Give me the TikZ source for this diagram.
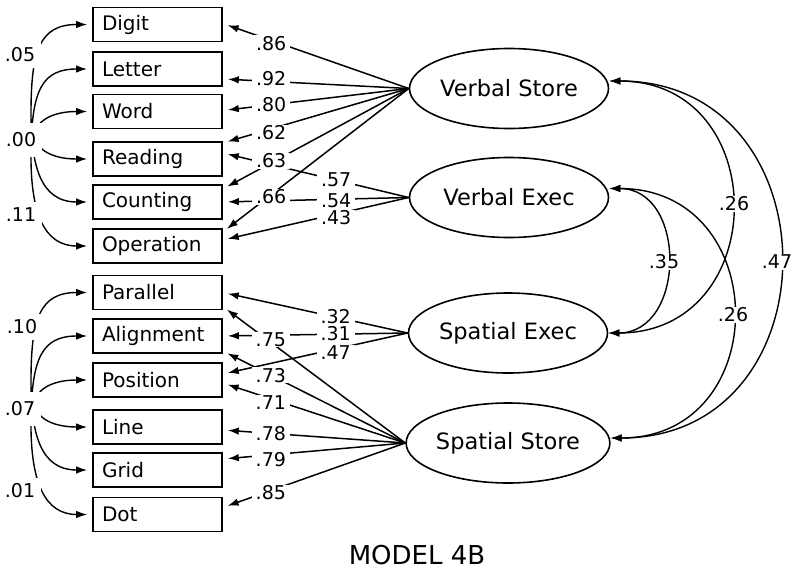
\documentclass[tikz,border=0pt]{standalone}
\usepackage{fontspec}
\setmainfont{DejaVu Sans}
\usetikzlibrary{arrows.meta,calc,shapes.geometric}
\begin{document}
\begin{tikzpicture}[x=1pt,y=-1pt,
  box/.style={draw,line width=1.7pt,minimum height=34pt,text width=111pt,inner xsep=9pt,inner ysep=0pt,align=left,font=\fontsize{20}{24}\selectfont},
  latent/.style={draw,ellipse,line width=1.6pt,minimum width=199pt,minimum height=80pt,inner sep=0pt,font=\fontsize{22.5}{26}\selectfont},
  lbl/.style={fill=white,inner xsep=4pt,inner ysep=0.8pt,font=\fontsize{19}{21}\selectfont},
  clbl/.style={fill=white,inner xsep=6pt,inner ysep=6pt,font=\fontsize{19}{21}\selectfont},
  tip/.tip={Latex[length=11pt,width=7.5pt]},
  load/.style={line width=1.5pt,-tip,shorten >=5pt},
  cov/.style={line width=1.4pt,tip-tip},
  lcov/.style={cov,shorten >=5pt,shorten <=5pt}]
\useasboundingbox (0,0) rectangle (800,573);

% observed boxes
\node[box] (Digit) at (157.5,24.5) {Digit};
\node[box] (Letter) at (157.5,69) {Letter};
\node[box] (Word) at (157.5,111.5) {Word};
\node[box] (Reading) at (157.5,159) {Reading};
\node[box] (Counting) at (157.5,202) {Counting};
\node[box] (Operation) at (157.5,246) {Operation};
\node[box] (Parallel) at (157.5,292.5) {Parallel};
\node[box] (Alignment) at (157.5,336) {Alignment};
\node[box] (Position) at (157.5,380) {Position};
\node[box] (Line) at (157.5,427) {Line};
\node[box] (Grid) at (157.5,470) {Grid};
\node[box] (Dot) at (157.5,514.5) {Dot};

% latent variables
\node[latent] (VS) at (509,88.5) {Verbal Store};
\node[latent] (VE) at (509,197.5) {Verbal Exec};
\node[latent] (SE) at (508,333) {Spatial Exec};
\node[latent] (SS) at (508,443) {Spatial Store};

% end points on boxes
\coordinate (eDig) at ([yshift=1pt]Digit.east);
\coordinate (eLet) at ([yshift=-10pt]Letter.east);
\coordinate (eWor) at ([yshift=1pt]Word.east);
\coordinate (eReaA) at ([yshift=16pt]Reading.east);
\coordinate (eReaB) at ([yshift=6pt]Reading.east);
\coordinate (eCouA) at ([yshift=13pt]Counting.east);
\coordinate (eCouB) at (Counting.east);
\coordinate (eOpeA) at ([yshift=14pt]Operation.east);
\coordinate (eOpeB) at ([yshift=6pt]Operation.east);
\coordinate (eParA) at (Parallel.east);
\coordinate (eParB) at ([yshift=-14pt]Parallel.east);
\coordinate (eAliA) at (Alignment.east);
\coordinate (eAliB) at ([yshift=-15pt]Alignment.east);
\coordinate (ePosA) at ([yshift=6pt]Position.east);
\coordinate (ePosB) at ([yshift=-3pt]Position.east);
\coordinate (eLin) at ([yshift=-3pt]Line.east);
\coordinate (eGri) at ([yshift=11pt]Grid.east);
\coordinate (eDot) at ([yshift=7pt]Dot.east);

% loadings
\draw[load] (VS.west) -- (eDig);
\draw[load] (VS.west) -- (eLet);
\draw[load] (VS.west) -- (eWor);
\draw[load] (VS.west) -- (eReaA);
\draw[load] (VS.west) -- (eCouA);
\draw[load] (VS.west) -- (eOpeA);
\draw[load] (VE.west) -- (eReaB);
\draw[load] (VE.west) -- (eCouB);
\draw[load] (VE.west) -- (eOpeB);
\draw[load] (SE.west) -- (eParA);
\draw[load] (SE.west) -- (eAliA);
\draw[load] (SE.west) -- (ePosA);
\draw[load] (SS.west) -- (eParB);
\draw[load] (SS.west) -- (eAliB);
\draw[load] (SS.west) -- (ePosB);
\draw[load] (SS.west) -- (eLin);
\draw[load] (SS.west) -- (eGri);
\draw[load] (SS.west) -- (eDot);

% loading labels
\node[lbl] (l86) at ([yshift=-3pt]$(VS.west)!0.74!(eDig)$) {.86};
\node[lbl] (l92) at ([yshift=3pt]$(VS.west)!0.74!(eLet)$) {.92};
\node[lbl] (l80) at ($(VS.west)!0.74!(eWor)$) {.80};
\node[lbl] (l62) at ([yshift=-4pt]$(VS.west)!0.74!(eReaA)$) {.62};
\node[lbl] (l63) at ([yshift=2pt]$(VS.west)!0.74!(eCouA)$) {.63};
\node[lbl] (l66) at ([yshift=-2pt]$(VS.west)!0.74!(eOpeA)$) {.66};
\node[lbl] (l57) at ([yshift=0pt]$(VE.west)!0.39!(eReaB)$) {.57};
\node[lbl] (l54) at ([yshift=-1pt]$(VE.west)!0.39!(eCouB)$) {.54};
\node[lbl] (l43) at ([yshift=-4pt]$(VE.west)!0.39!(eOpeB)$) {.43};
\node[lbl] (l32) at ([yshift=1pt]$(SE.west)!0.39!(eParA)$) {.32};
\node[lbl] (l31) at ([yshift=0.5pt]$(SE.west)!0.39!(eAliA)$) {.31};
\node[lbl] (l47) at ([yshift=-4pt]$(SE.west)!0.39!(ePosA)$) {.47};
\node[lbl] (l75) at ([yshift=3pt]$(SS.west)!0.737!(eParB)$) {.75};
\node[lbl] (l73) at ($(SS.west)!0.737!(eAliB)$) {.73};
\node[lbl] (l71) at ([yshift=-4pt]$(SS.west)!0.737!(ePosB)$) {.71};
\node[lbl] (l78) at ($(SS.west)!0.737!(eLin)$) {.78};
\node[lbl] (l79) at ([yshift=-5pt]$(SS.west)!0.737!(eGri)$) {.79};
\node[lbl] (l85) at ([yshift=-2pt]$(SS.west)!0.737!(eDot)$) {.85};

% correlated residuals (verbal)
\draw[lcov] (Digit.west) .. controls (40,24.5) and (31,50) .. (31,113)
  .. controls (31,165) and (40,202) .. (Counting.west);
\draw[lcov] (Letter.west) .. controls (42,69) and (32,90) .. (31,150)
  .. controls (30,215) and (45,246) .. (Operation.west);
\draw[lcov] (Word.west) .. controls (21,111.5) and (21,159) .. (Reading.west);
\node[clbl] (c05) at (20,55) {.05};
\node[clbl,inner ysep=10pt] (c00) at (21,140) {.00};
\node[clbl] (c11) at (21,215) {.11};

% correlated residuals (spatial)
\draw[lcov] (Parallel.west) .. controls (40,292.5) and (31,318) .. (31,381)
  .. controls (31,433) and (40,470) .. (Grid.west);
\draw[lcov] (Alignment.west) .. controls (42,336) and (32,358) .. (31,418)
  .. controls (30,483) and (45,514.5) .. (Dot.west);
\draw[lcov] (Position.west) .. controls (21,380) and (21,427) .. (Line.west);
\node[clbl] (c10) at (22,327) {.10};
\node[clbl,inner ysep=10pt] (c07) at (20,409) {.07};
\node[clbl] (c01) at (20,491) {.01};

% latent covariances
\draw[cov] ([yshift=7.5pt]VS.east) .. controls +(164,0) and +(164,0) .. (SE.east);
\draw[cov] ([yshift=7.5pt]VS.east) .. controls +(227,0) and +(227,0) .. ([yshift=5pt]SS.east);
\draw[cov] ([yshift=9pt]VE.east) .. controls +(78,0) and +(78,0) .. (SE.east);
\draw[cov] ([yshift=9pt]VE.east) .. controls +(164,0) and +(164,0) .. ([yshift=5pt]SS.east);
\node[lbl] (r26a) at (734,204) {.26};
\node[lbl] (r47) at (777,262) {.47};
\node[lbl] (r35) at (664,262) {.35};
\node[lbl] (r26b) at (733,315) {.26};

\node[font=\fontsize{26}{30}\selectfont] (title) at (417,555) {MODEL 4B};
\end{tikzpicture}
\end{document}
